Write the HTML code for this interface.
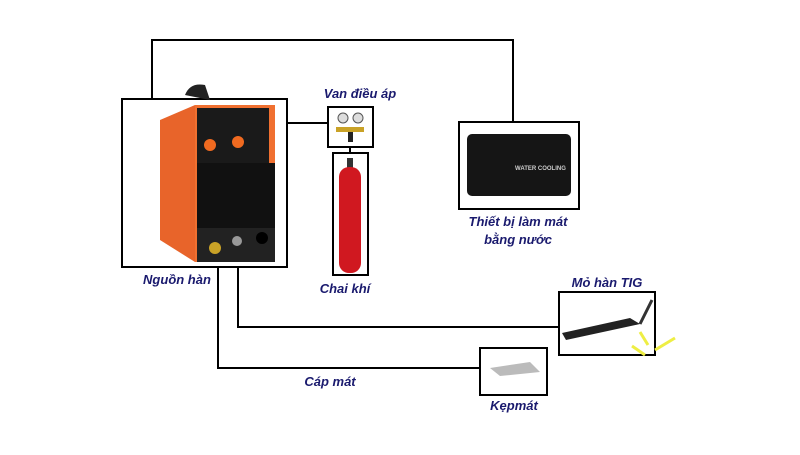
<!DOCTYPE html>
<html><head><meta charset="utf-8"><style>
body{margin:0;background:#fff;width:800px;height:450px;overflow:hidden}
.t{font-family:"Liberation Sans",sans-serif;font-weight:bold;font-style:italic;fill:#1a1a6e;font-size:13px}
</style></head><body>
<svg width="800" height="450" xmlns="http://www.w3.org/2000/svg">
<g fill="none" stroke="#000" stroke-width="2">
<polyline points="152,99 152,40 513,40 513,122"/>
<line x1="287" y1="123" x2="328" y2="123"/>
<line x1="350" y1="147" x2="350" y2="153"/>
<polyline points="238,267 238,327 559,327"/>
<polyline points="218,267 218,368 480,368"/>
<rect x="122" y="99" width="165" height="168"/>
<rect x="328" y="107" width="45" height="40"/>
<rect x="333" y="153" width="35" height="122"/>
<rect x="459" y="122" width="120" height="87"/>
<rect x="559" y="292" width="96" height="63"/>
<rect x="480" y="348" width="67" height="47"/>
</g>
<!-- welder -->
<path d="M185,95 Q190,82 205,85 L210,100 Z" fill="#222"/>
<polygon points="160,120 195,105 275,105 275,262 195,262 160,240" fill="#e8642a"/>
<polygon points="195,105 275,105 275,262 195,262" fill="#f07030"/>
<rect x="197" y="108" width="72" height="55" fill="#1a1a1a"/>
<circle cx="210" cy="145" r="6" fill="#f06a20"/>
<circle cx="238" cy="142" r="6" fill="#f06a20"/>
<rect x="197" y="163" width="78" height="65" fill="#111"/>
<rect x="197" y="228" width="78" height="34" fill="#222"/>
<circle cx="215" cy="248" r="6" fill="#c9a227"/>
<circle cx="237" cy="241" r="5" fill="#999"/>
<circle cx="262" cy="238" r="6" fill="#000"/>
<!-- regulator -->
<circle cx="343" cy="118" r="5" fill="#ddd" stroke="#555"/>
<circle cx="358" cy="118" r="5" fill="#ddd" stroke="#555"/>
<rect x="336" y="127" width="28" height="5" fill="#c9a227"/>
<rect x="348" y="132" width="5" height="10" fill="#222"/>
<!-- cylinder -->
<rect x="347" y="158" width="6" height="10" fill="#333"/>
<rect x="339" y="167" width="22" height="106" rx="10" fill="#d01820"/>
<!-- cooler -->
<rect x="467" y="134" width="104" height="62" rx="5" fill="#151515"/>
<text x="515" y="170" font-size="6" fill="#ccc" font-family="Liberation Sans" font-weight="bold">WATER COOLING</text>
<!-- torch -->
<path d="M562,333 L630,318 L640,324 L566,340 Z" fill="#222"/>
<line x1="640" y1="324" x2="652" y2="300" stroke="#333" stroke-width="3"/>
<path d="M640,332 L648,345 M655,350 L675,338 M645,355 L632,346" stroke="#ee4" stroke-width="3" fill="none"/>
<!-- clamp -->
<path d="M490,368 L530,362 L540,372 L500,376 Z" fill="#bbb"/>
<text class="t" x="360" y="98" text-anchor="middle">Van điều áp</text>
<text class="t" x="345" y="293" text-anchor="middle">Chai khí</text>
<text class="t" x="177" y="284" text-anchor="middle">Nguồn hàn</text>
<text class="t" x="518" y="226" text-anchor="middle">Thiết bị làm mát</text>
<text class="t" x="518" y="244" text-anchor="middle">bằng nước</text>
<text class="t" x="607" y="287" text-anchor="middle">Mỏ hàn TIG</text>
<text class="t" x="330" y="386" text-anchor="middle">Cáp mát</text>
<text class="t" x="514" y="410" text-anchor="middle">Kẹpmát</text>
</svg>
</body></html>
